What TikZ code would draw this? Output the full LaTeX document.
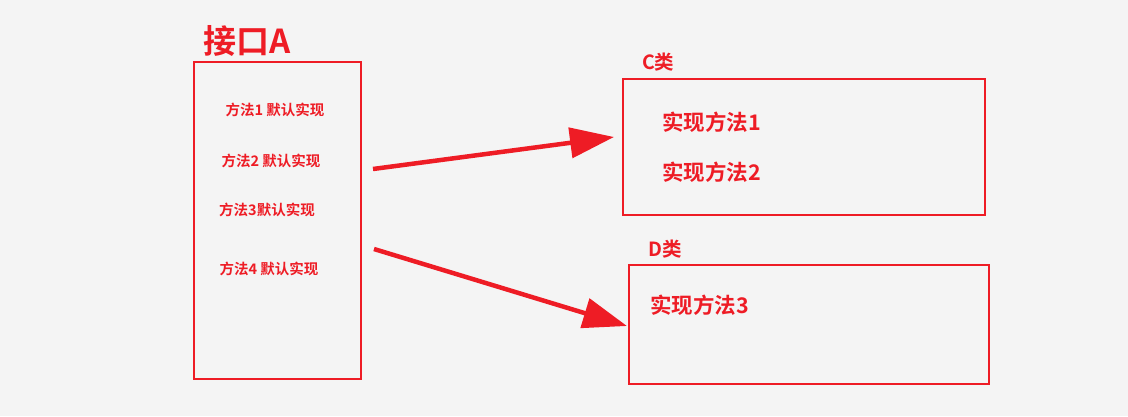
\documentclass[tikz,border=0pt]{standalone}
\usepackage{fontspec}
\newfontfamily\cjk{Noto Sans CJK SC}[BoldFont={Noto Sans CJK SC Bold}]
\usetikzlibrary{arrows.meta}
\definecolor{rd}{HTML}{EE1C25}
\definecolor{bg}{HTML}{F4F4F4}
\tikzset{box/.style={draw=rd,line width=2.4pt},
 txt/.style={text=rd,font=\cjk\bfseries,inner sep=0pt},
 arr/.style={rd,line width=4.5pt,-{Triangle[length=44pt,width=30pt]}}}
\begin{document}
\begin{tikzpicture}[x=1pt,y=-1pt]
\fill[bg] (0,0) rectangle (1128,416);
\draw[box] (194,62) rectangle (361,379);
\draw[box] (623,79) rectangle (985,215);
\draw[box] (629,265) rectangle (989,384);
\node[txt,font=\cjk\bfseries\fontsize{33}{35}\selectfont,anchor=west] (ta) at (203,41) {接口A};
\node[txt,font=\cjk\bfseries\fontsize{14.5}{16}\selectfont] (m1) at (275,110) {方法1 默认实现};
\node[txt,font=\cjk\bfseries\fontsize{14.5}{16}\selectfont] (m2) at (271,161) {方法2 默认实现};
\node[txt,font=\cjk\bfseries\fontsize{14.5}{16}\selectfont] (m3) at (267,210) {方法3默认实现};
\node[txt,font=\cjk\bfseries\fontsize{14.5}{16}\selectfont] (m4) at (269,269) {方法4 默认实现};
\node[txt,font=\cjk\bfseries\fontsize{19.5}{21}\selectfont,anchor=west] (tc) at (642,62) {C类};
\node[txt,font=\cjk\bfseries\fontsize{19.5}{21}\selectfont,anchor=west] (td) at (648,249) {D类};
\node[txt,font=\cjk\bfseries\fontsize{21.5}{23}\selectfont,anchor=west] (c1) at (662,122) {实现方法1};
\node[txt,font=\cjk\bfseries\fontsize{21.5}{23}\selectfont,anchor=west] (c2) at (662,172) {实现方法2};
\node[txt,font=\cjk\bfseries\fontsize{21.5}{23}\selectfont,anchor=west] (d1) at (650,305) {实现方法3};
\coordinate (a1) at (373,169); \coordinate (b1) at (614,137);
\coordinate (a2) at (374,249); \coordinate (b2) at (627,326);
\draw[arr] (a1) -- (b1);
\draw[arr] (a2) -- (b2);
\end{tikzpicture}
\end{document}
